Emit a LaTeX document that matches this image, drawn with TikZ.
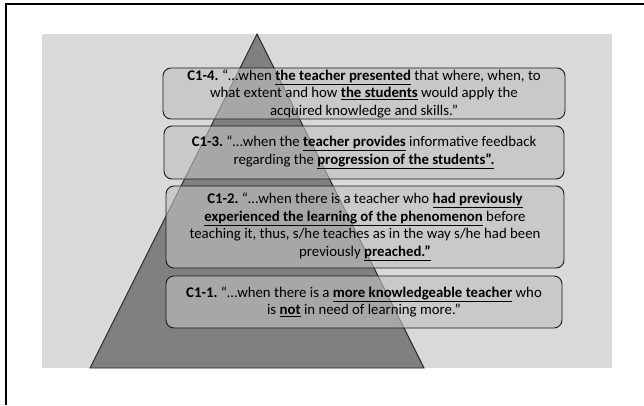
\documentclass[tikz,border=0pt]{standalone}
\usepackage{fontspec}
\setmainfont{Carlito}
\frenchspacing
\begin{document}
\begin{tikzpicture}[x=1pt,y=-1pt,
  frameline/.style={line width=2pt,draw=black},
  panel/.style={fill=panelgray,draw=none},
  pyramid/.style={fill=pyrgray,draw=black!85,line width=0.9pt,line join=miter},
  cbox/.style={draw=black!90,line width=0.9pt,rounded corners=8pt,
    fill=boxgray,fill opacity=0.62,text opacity=1,
    align=center,inner sep=0pt,
    font=\fontsize{14.8}{17.5}\selectfont}]
\definecolor{panelgray}{HTML}{D9D9D9}
\definecolor{pyrgray}{HTML}{808080}
\definecolor{boxgray}{HTML}{C0C0C0}
\newcommand{\ul}[1]{\textbf{\underline{#1}}}
\useasboundingbox (0,0) rectangle (644,405);
\fill[white] (0,0) rectangle (644,405);
% outer frame (top and left edges)
\draw[frameline] (6,405) -- (6,4) -- (644,4);
% grey panel
\path[panel] (42,34) rectangle (612,368);
% pyramid
\draw[pyramid] (257,34) -- (424,368) -- (90,368) -- cycle;
% statements
\node[cbox,minimum width=402pt,minimum height=51pt] (c4) at (364,93.5)
  {\textbf{C1-4.} “…when \ul{the teacher presented} that where, when, to\\
   what extent and how \ul{the students} would apply the\\
   acquired knowledge and skills.”};
\node[cbox,minimum width=400pt,minimum height=53pt] (c3) at (364,152.5)
  {\textbf{C1-3.} “…when the \ul{teacher provides} informative feedback\\
   regarding the \ul{progression of the students”.}};
\node[cbox,minimum width=398pt,minimum height=82pt] (c2) at (365,227)
  {\textbf{C1-2.} “…when there is a teacher who \ul{had previously}\\
   \ul{experienced the learning of the phenomenon} before\\
   teaching it, thus, s/he teaches as in the way s/he had been\\
   previously \ul{preached.”}};
\node[cbox,minimum width=396pt,minimum height=52pt] (c1) at (364,302)
  {\textbf{C1-1.} “…when there is a \ul{more knowledgeable teacher} who\\
   is \ul{not} in need of learning more.”};
\end{tikzpicture}
\end{document}
